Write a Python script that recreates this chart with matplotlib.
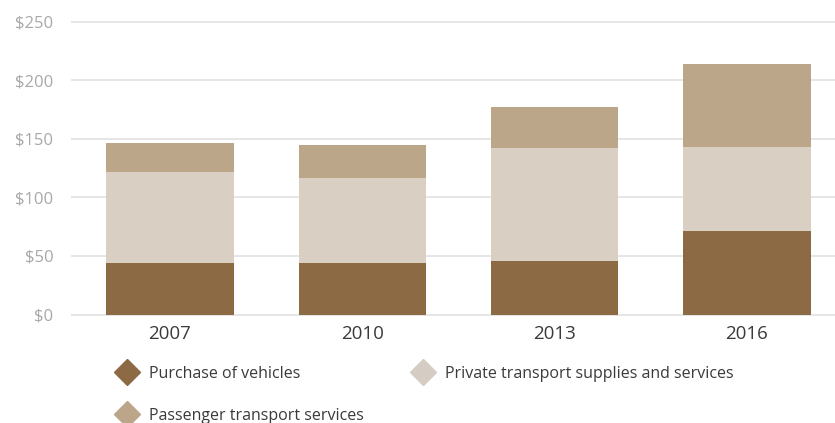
import matplotlib
matplotlib.use("Agg")
import matplotlib.pyplot as plt
from matplotlib.lines import Line2D

plt.rcParams['font.family'] = ['Open Sans', 'DejaVu Sans']

years = ['2007', '2010', '2013', '2016']
vehicles = [44, 44, 46, 71]
private_transport = [78, 73, 96, 72]
passenger_transport = [25, 28, 35, 71]
y_ticks = [0, 50, 100, 150, 200, 250]

dark = '#8C6A43'
light = '#DACFC3'
mid = '#BCA68A'

fig = plt.figure(figsize=(8.35, 4.23), dpi=100)
ax = fig.add_axes([0.0862, 0.2565, 0.9138, 0.6915])

x = range(len(years))
w = 0.663
ax.bar(x, vehicles, w, color=dark, zorder=2)
ax.bar(x, private_transport, w, bottom=vehicles, color=light, zorder=2)
stack = [a + b for a, b in zip(vehicles, private_transport)]
ax.bar(x, passenger_transport, w, bottom=stack, color=mid, zorder=2)

ax.set_xlim(-0.5096, 3.458)
ax.set_ylim(0, 250)
ax.set_yticks(y_ticks)
ax.set_yticklabels([f'${v}' for v in y_ticks])
ax.set_xticks(list(x))
ax.set_xticklabels(years)

ax.yaxis.grid(True, color='#E6E6E6', linewidth=1.4, zorder=0)
ax.set_axisbelow(True)
for s in ax.spines.values():
    s.set_visible(False)
ax.tick_params(axis='y', length=0, pad=13.5, labelsize=12, labelcolor='#A8A8A8')
ax.tick_params(axis='x', length=0, pad=7.5, labelsize=13.5, labelcolor='#3A3A3A')
for gl in ax.get_ygridlines():
    gl.set_clip_on(False)

# legend: row 1 = vehicles / private, row 2 = passenger
handles = [
    Line2D([], [], marker='D', linestyle='none', markersize=13.5, color=dark, label='Purchase of vehicles'),
    Line2D([], [], marker='D', linestyle='none', markersize=13.5, color=mid, label='Passenger transport services'),
    Line2D([], [], marker='D', linestyle='none', markersize=13.5, color='#D5CCC3',
           label='Private transport supplies and services'),
]
fig.legend(handles=handles, ncol=2, loc='upper left',
           bbox_to_anchor=(119.5 / 835, 1 - 366 / 423),
           frameon=False, fontsize=11.5, labelcolor='#3A3A3A', handlelength=1.0,
           handletextpad=0.85, columnspacing=3.2, labelspacing=1.6, borderpad=0, borderaxespad=0)

fig.savefig('out.png', dpi=100)
